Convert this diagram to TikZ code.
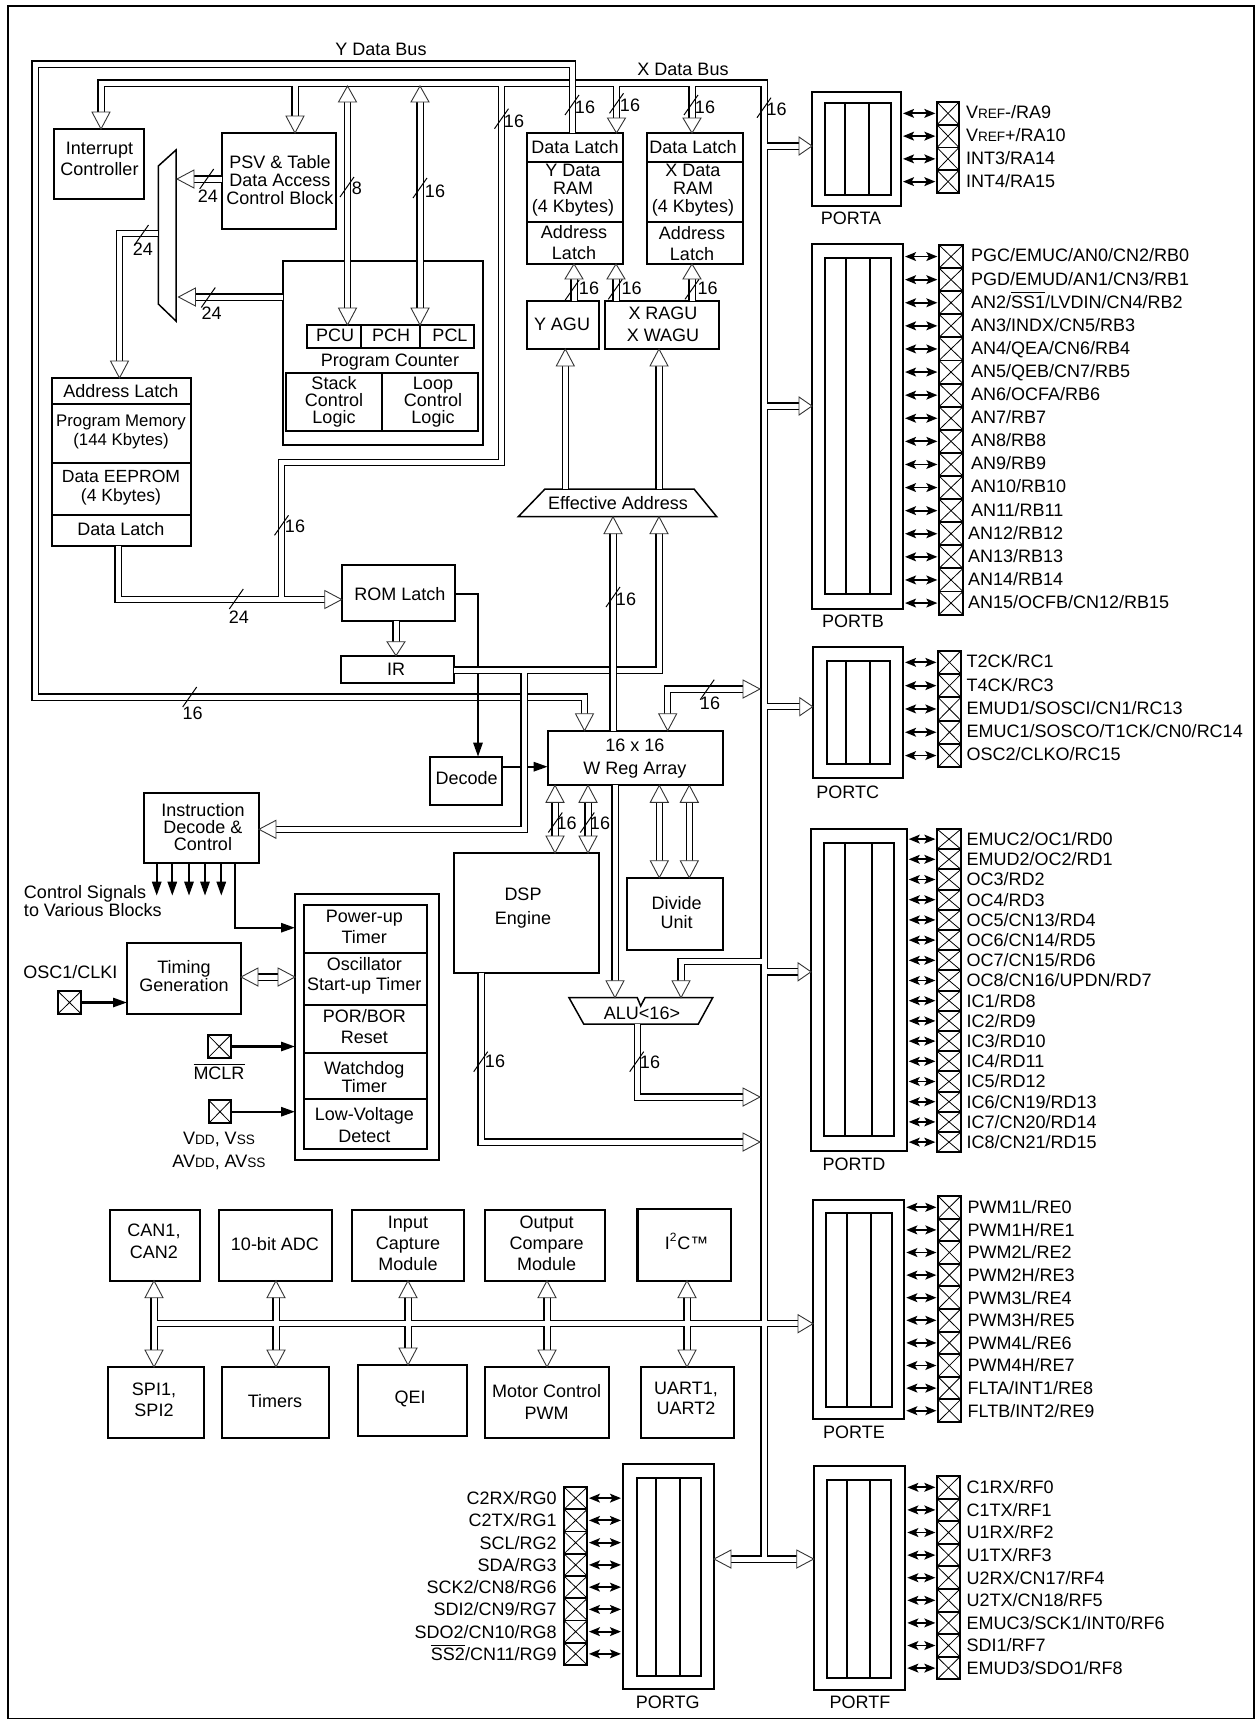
\documentclass[tikz,border=0pt]{standalone}
\usepackage{fontspec}
\setmainfont{Liberation Sans}
\usetikzlibrary{arrows.meta,calc}
\newcount\Tcnt
\newcommand\Ovl[1]{$\overline{\mbox{#1}}$}
\newcommand\Sm{\fontsize{6.8}{8}\selectfont}
\tikzset{
  box/.style={draw,line width=1.1pt,inner sep=0pt,outer sep=0pt},
  txt/.style={inner sep=0pt,outer sep=0pt,font=\fontsize{9}{10}\selectfont,text height=6.4pt,text depth=0pt},
  bus/.style={line width=.6pt,double=white,double distance=2.5pt,line join=miter},
  hd/.style={draw=black!80,line width=.45pt,fill=white,line join=miter},
  divl/.style={line width=1.1pt},
  thn/.style={line width=.75pt},
  slash/.style={line width=.5pt},
  thk/.style={line width=1.1pt,-{Triangle[length=7pt,width=4.6pt]}},
  pin/.style={draw,line width=.95pt,inner sep=0pt,outer sep=0pt,path picture={\draw[line width=.4pt] (path picture bounding box.north west)--(path picture bounding box.south east) (path picture bounding box.north east)--(path picture bounding box.south west);}},
  pinar/.style={line width=.9pt,{Stealth[length=5.5pt,width=4.4pt,inset=1.2pt]}-{Stealth[length=5.5pt,width=4.4pt,inset=1.2pt]},shorten <=1pt,shorten >=.8pt},
}
% box: [opts]{x1}{y1}{x2}{y2}{name}
\newcommand\Bx[6][]{\node[box,minimum width={(#4-#2)*0.5pt},minimum height={(#5-#3)*0.5pt},#1] (#6) at ({(#2+#4)/2},{(#3+#5)/2}) {};}
% single-line text
\newcommand\Tl[4][]{\global\advance\Tcnt by 1\relax\node[txt,#1] (t\the\Tcnt) at (#2,#3) {#4};}
% multi-line text: {x}{ymid}{skip}{text}
\newcommand\Tm[5][]{\global\advance\Tcnt by 1\relax\node[inner sep=0pt,outer sep=0pt,align=center,font=\fontsize{9}{#4}\selectfont,#1] (t\the\Tcnt) at (#2,#3) {#5};}
% bus width slash and number
\newcommand\Bw[5]{\draw[slash] (#1,#2) ++(-7,10) -- ++(14,-20);\Tl{#3}{#4}{#5}}
\newcommand\HdD[2][17]{\draw[hd] (#2) -- ++(-9,-#1) -- ++(18,0) -- cycle;}
\newcommand\HdU[2][17]{\draw[hd] (#2) -- ++(-9,#1) -- ++(18,0) -- cycle;}
\newcommand\HdR[2][17]{\draw[hd] (#2) -- ++(-#1,-9) -- ++(0,18) -- cycle;}
\newcommand\HdL[2][17]{\draw[hd] (#2) -- ++(#1,-9) -- ++(0,18) -- cycle;}
% pin column right of a port: prefix, port, x1, x2, ytop, rowh, labelx, label offset, list
\newcommand\PinR[9]{\foreach \lbl [count=\ii from 0] in {#9}{%
  \node[pin,minimum width={(#4-#3)*0.5pt},minimum height={#6*0.5pt}] (#1\ii) at ({(#3+#4)/2},{#5+#6*(\ii+0.5)}) {};
  \draw[pinar] (#2.east |- #1\ii.west) -- (#1\ii.west);
  \node[txt,anchor=west] (#1l\ii) at (#7,{#5+#6*(\ii+0.5)+#8}) {\lbl};}}
\newcommand\PinL[9]{\foreach \lbl [count=\ii from 0] in {#9}{%
  \node[pin,minimum width={(#4-#3)*0.5pt},minimum height={#6*0.5pt}] (#1\ii) at ({(#3+#4)/2},{#5+#6*(\ii+0.5)}) {};
  \draw[pinar] (#2.west |- #1\ii.east) -- (#1\ii.east);
  \node[txt,anchor=east] (#1l\ii) at (#7,{#5+#6*(\ii+0.5)+#8}) {\lbl};}}
\begin{document}
\begin{tikzpicture}[x=0.5pt,y=-0.5pt]
\useasboundingbox (0,0) rectangle (1254,1719);
\draw[line width=1pt] (8,6) rectangle (1254,1719);
% ---- boxes
\Bx{54}{129}{144}{199}{ic}
\Bx{222}{133}{336}{229}{psv}
\Bx{283}{261}{483}{445}{pc}
\Bx{307}{325}{474}{348}{pcub}
\draw[divl] (361,325)--(361,348) (420.3,325)--(420.3,348);
\Bx{286}{373}{478}{431}{stk}
\draw[divl] (382,373)--(382,431);
\Bx{52}{378}{191}{546}{mem}
\draw[divl] (52,404)--(191,404) (52,463)--(191,463) (52,515)--(191,515);
\Bx{527.3}{133}{623}{264}{yram}
\draw[divl] (527.3,161.7)--(623,161.7) (527.3,222.3)--(623,222.3);
\Bx{647.3}{133}{743}{264}{xram}
\draw[divl] (647.3,161.7)--(743,161.7) (647.3,222.3)--(743,222.3);
\Bx{527}{301}{599}{349}{yagu}
\Bx{605}{301}{719}{349}{xagu}
\Bx{341.7}{565.3}{455}{621}{rom}
\Bx{341}{655.7}{454.3}{682.7}{ir}
\Bx{430}{756.7}{502}{805}{dec}
\Bx{547.7}{730.7}{723.3}{785.3}{w}
\Bx{454}{853}{599}{972.7}{dsp}
\Bx{627}{877.7}{723.3}{950}{divu}
\Bx{144}{793}{259}{863}{id}
\Bx{127}{942.7}{241}{1014}{tg}
\Bx{295}{894}{439}{1159.7}{tmr}
\Bx{304}{905}{427}{1149.3}{tmri}
\draw[divl] (304,953.3)--(427,953.3) (304,1004.7)--(427,1004.7) (304,1053)--(427,1053) (304,1099)--(427,1099);
\Bx{110}{1210}{200}{1280.7}{can}
\Bx{219}{1210}{332}{1280.7}{adc}
\Bx{352}{1210}{464}{1280.7}{icm}
\Bx{484.6}{1210}{605}{1280.7}{ocm}
\Bx{637.5}{1209}{730.7}{1280.7}{iic}
\Bx{108}{1367}{203.7}{1437.7}{spi}
\Bx{222}{1367}{329}{1437.7}{tim}
\Bx{358}{1365}{466.7}{1435.7}{qei}
\Bx{484.6}{1367}{608.6}{1437.7}{pwm}
\Bx{640.7}{1367}{734}{1437.7}{uart}
% mux, effective address, ALU outlines
\draw[thn] (158.3,166)--(176,150)--(176,321)--(158.3,304)--cycle;
\draw[thn] (545,489)--(694,489)--(716.7,516.7)--(518.3,516.7)--cycle;
\draw[thn] (569,997.7)--(637.3,997.7)--(640.7,1006)--(645,997.7)--(712.7,997.7)--(698.3,1024)--(583.7,1024)--cycle;
% ports
\Bx{812}{92}{901}{206}{pa}\Bx{825}{103}{891}{194.7}{pai}
\draw[divl] (845,103)--(845,194.7) (869,103)--(869,194.7);
\Bx{812}{244}{903}{609}{pb}\Bx{825}{258}{891}{594}{pbi}
\draw[divl] (846,258)--(846,594) (870,258)--(870,594);
\Bx{812.7}{646.7}{903}{778}{pcc}\Bx{826.7}{660.7}{890}{764}{pci}
\draw[divl] (845.7,660.7)--(845.7,764) (870,660.7)--(870,764);
\Bx{811}{829}{906.7}{1151}{pd}\Bx{824}{843}{894}{1135.7}{pdi}
\draw[divl] (845,843)--(845,1135.7) (871.7,843)--(871.7,1135.7);
\Bx{813}{1200}{904.3}{1418.8}{pe}\Bx{826}{1213}{892}{1406.6}{pei}
\draw[divl] (847.3,1213)--(847.3,1406.6) (871.3,1213)--(871.3,1406.6);
\Bx{813.7}{1465.7}{905.3}{1689.7}{pf}\Bx{826.7}{1479.8}{891.3}{1678}{pfi}
\draw[divl] (847.3,1479.8)--(847.3,1678) (870.3,1479.8)--(870.3,1678);
\Bx{623}{1464}{714}{1689}{pg}\Bx{636.7}{1478}{701.3}{1676}{pgi}
\draw[divl] (656,1478)--(656,1676) (680,1478)--(680,1676);
% ---- bus junction coordinates
\coordinate (xL) at (101,83); \coordinate (xP) at (295,83); \coordinate (xV) at (501.5,83);
\coordinate (xY) at (616.5,83); \coordinate (xX) at (692,83); \coordinate (xR) at (764,83);
\coordinate (xB) at (764,1559);
\coordinate (mA) at (764,146); \coordinate (mB) at (764,406); \coordinate (mC) at (764,706.7);
\coordinate (mD) at (764,971.8); \coordinate (mE) at (764,1323.7); \coordinate (mAlu) at (764,961.7);
\coordinate (aluC) at (681,961.7); \coordinate (aluT) at (640,997.7);
\coordinate (vc1) at (501.5,462.5); \coordinate (vc2) at (281.5,462.5); \coordinate (vc3) at (281.5,599.5);
\coordinate (dc1) at (118,599.5);
\coordinate (pL) at (154,1323.7); \coordinate (p2) at (276,1323.7); \coordinate (p3) at (408,1323.7);
\coordinate (p4) at (547,1323.7); \coordinate (p5) at (687,1323.7);
\coordinate (eaT) at (618,489); \coordinate (eaB) at (618,516.7);
% ---- X data bus network (one path, so junctions merge)
\draw[bus]
  ($(xL |- ic.north)+(0,-10)$) -- (xL) -- (xR) -- (xB)
  (xP) -- ($(xP |- psv.north)+(0,-10)$)
  (xY) -- ($(xY |- yram.north)+(0,-10)$)
  (xX) -- ($(xX |- xram.north)+(0,-10)$)
  (xV) -- (vc1) -- (vc2) -- (vc3)
  (dc1 |- mem.south) -- (dc1) -- ($(dc1 -| rom.west)+(-8,0)$)
  (mA) -- ($(mA -| pa.west)+(-8,0)$)
  (mB) -- ($(mB -| pb.west)+(-8,0)$)
  (mC) -- ($(mC -| pcc.west)+(-8,0)$)
  (mD) -- ($(mD -| pd.west)+(-8,0)$)
  (mAlu) -- (aluC) -- ($(aluC |- aluT)+(0,-10)$)
  ($(pL |- can.south)+(0,10)$) -- ($(pL |- spi.north)+(0,-10)$)
  (pL) -- ($(mE -| pe.west)+(-8,0)$)
  ($(p2 |- adc.south)+(0,10)$) -- ($(p2 |- tim.north)+(0,-10)$)
  ($(p3 |- icm.south)+(0,10)$) -- ($(p3 |- qei.north)+(0,-10)$)
  ($(p4 |- ocm.south)+(0,10)$) -- ($(p4 |- pwm.north)+(0,-10)$)
  ($(p5 |- iic.south)+(0,10)$) -- ($(p5 |- uart.north)+(0,-10)$)
  ($(xB -| pg.east)+(8,0)$) -- ($(xB -| pf.west)+(-8,0)$);
% ---- Y data bus
\coordinate (yb1) at (572.5,64); \coordinate (yb2) at (35,64); \coordinate (yb3) at (35,697);
\coordinate (yb4) at (584.5,697);
\draw[bus] (yb1 |- yram.north) -- (yb1) -- (yb2) -- (yb3) -- (yb4) -- ($(yb4 |- w.north)+(0,-10)$);
% ---- control lines
\coordinate (tc) at (478,594); \coordinate (dw) at (502,766.7);
\draw[thk] (rom.east |- tc) -- (tc) -- (tc |- dec.north);
\draw[thk] (dec.east |- dw) -- (w.west |- dw);
% ---- IR network
\coordinate (irR) at (659,670); \coordinate (irD) at (524,670); \coordinate (irC) at (524,829.3);
\draw[bus] (ir.east |- irR) -- (irR) -- ($(irR |- eaB)+(0,10)$)
  (irD) -- (irC) -- ($(irC -| id.east)+(10,0)$);
% ---- W register connections
\coordinate (wE) at (613,600); \coordinate (w2) at (667.7,689); \coordinate (wa) at (615,800);
\coordinate (ds1) at (555,820); \coordinate (ds2) at (588,820);
\coordinate (dv1) at (659.3,820); \coordinate (dv2) at (689.3,820);
\draw[bus] (wE |- w.north) -- ($(wE |- eaB)+(0,10)$);
\draw[bus] ($(w2 |- w.north)+(0,-10)$) -- (w2) -- ($(w2 -| xR)+(-12,0)$);
\draw[bus] (wa |- w.south) -- ($(wa |- aluT)+(0,-10)$);
\draw[bus] ($(ds1 |- w.south)+(0,10)$) -- ($(ds1 |- dsp.north)+(0,-10)$);
\draw[bus] ($(ds2 |- w.south)+(0,10)$) -- ($(ds2 |- dsp.north)+(0,-10)$);
\draw[bus] ($(dv1 |- w.south)+(0,10)$) -- ($(dv1 |- divu.north)+(0,-10)$);
\draw[bus] ($(dv2 |- w.south)+(0,10)$) -- ($(dv2 |- divu.north)+(0,-10)$);
% ---- ALU and DSP outputs
\coordinate (ao1) at (637.5,1024); \coordinate (ao2) at (637.5,1097);
\coordinate (do1) at (481,972.7); \coordinate (do2) at (481,1142);
\draw[bus] (ao1) -- (ao2) -- ($(ao2 -| xR)+(-12,0)$);
\draw[bus] (do1) -- (do2) -- ($(do2 -| xR)+(-12,0)$);
% ---- program counter and address paths
\coordinate (pb8) at (347.5,86); \coordinate (pb16) at (420,86);
\draw[bus] ($(pb8)+(0,10)$) -- ($(pb8 |- pcub.north)+(0,-10)$);
\draw[bus] ($(pb16)+(0,10)$) -- ($(pb16 |- pcub.north)+(0,-10)$);
\coordinate (muxS) at (177,179); \coordinate (muxP) at (178.5,297);
\draw[bus] (psv.west |- muxS) -- ($(muxS)+(10,0)$);
\draw[bus] (pc.west |- muxP) -- ($(muxP)+(10,0)$);
\coordinate (mx1) at (158.3,233.5); \coordinate (mx2) at (119.5,233.5);
\draw[bus] (mx1) -- (mx2) -- ($(mx2 |- mem.north)+(0,-10)$);
% ---- AGU paths
\coordinate (ya) at (574,290); \coordinate (xa1) at (616,290); \coordinate (xa2) at (692,290);
\draw[bus] (ya |- yagu.north) -- ($(ya |- yram.south)+(0,10)$);
\draw[bus] (xa1 |- xagu.north) -- ($(xa1 |- yram.south)+(0,10)$);
\draw[bus] (xa2 |- xagu.north) -- ($(xa2 |- xram.south)+(0,10)$);
\coordinate (ea1) at (565.3,420); \coordinate (ea2) at (659,420);
\draw[bus] (ea1 |- eaT) -- ($(ea1 |- yagu.south)+(0,10)$);
\draw[bus] (ea2 |- eaT) -- ($(ea2 |- xagu.south)+(0,10)$);
% ---- ROM to IR, timing
\coordinate (ri) at (396,640); \coordinate (tt) at (270,977);
\draw[bus] (ri |- rom.south) -- ($(ri |- ir.north)+(0,-10)$);
\draw[bus] ($(tt -| tg.east)+(10,0)$) -- ($(tt -| tmr.west)+(-10,0)$);
% ---- heads
\HdD{xL |- ic.north}\HdD{xP |- psv.north}
\HdD[15]{xY |- yram.north}\HdD[15]{xX |- xram.north}
\HdU[15]{ya |- yram.south}\HdU[15]{xa1 |- yram.south}\HdU[15]{xa2 |- xram.south}
\HdU{ea1 |- yagu.south}\HdU{ea2 |- xagu.south}
\HdU[16]{pb8}\HdD{pb8 |- pcub.north}\HdU[16]{pb16}\HdD{pb16 |- pcub.north}
\HdL{muxS}\HdL{muxP}\HdD{mx2 |- mem.north}
\HdR[13]{mA -| pa.west}\HdR[13]{mB -| pb.west}\HdR[13]{mC -| pcc.west}\HdR[13]{mD -| pd.west}\HdR[15]{mE -| pe.west}
\HdR{dc1 -| rom.west}
\HdD[14]{ri |- ir.north}
\HdU{wE |- eaB}\HdU{irR |- eaB}
\HdL{irC -| id.east}
\HdD{yb4 |- w.north}\HdD{w2 |- w.north}\HdR{$(w2 -| xR)+(-4,0)$}
\HdD{wa |- aluT}\HdD{aluC |- aluT}
\HdR{$(ao2 -| xR)+(-4,0)$}\HdR{$(do2 -| xR)+(-4,0)$}
\HdU{ds1 |- w.south}\HdD{ds1 |- dsp.north}\HdU{ds2 |- w.south}\HdD{ds2 |- dsp.north}
\HdU{dv1 |- w.south}\HdD{dv1 |- divu.north}\HdU{dv2 |- w.south}\HdD{dv2 |- divu.north}
\HdL{tt -| tg.east}\HdR{tt -| tmr.west}
\HdU{pL |- can.south}\HdD{pL |- spi.north}
\HdU{p2 |- adc.south}\HdD{p2 |- tim.north}
\HdU{p3 |- icm.south}\HdD{p3 |- qei.north}
\HdU{p4 |- ocm.south}\HdD{p4 |- pwm.north}
\HdU{p5 |- iic.south}\HdD{p5 |- uart.north}
\HdL{xB -| pg.east}\HdR{xB -| pf.west}
% ---- bus width marks
\Bw{206.7}{179}{208}{196}{24}
\Bw{141.5}{235}{143}{249}{24}
\Bw{208.3}{297.5}{211.7}{313}{24}
\Bw{347}{187}{357}{188}{8}
\Bw{420}{188}{435}{190.7}{16}
\Bw{501.5}{118.7}{514}{120.7}{16}
\Bw{572}{105}{585}{106.7}{16}
\Bw{616.5}{103.3}{630}{104.7}{16}
\Bw{691}{105}{705}{107}{16}
\Bw{764}{107.7}{776.7}{109}{16}
\Bw{572.2}{290}{589}{287.7}{16}
\Bw{615.3}{289.3}{631.7}{287.7}{16}
\Bw{692}{289.3}{707.7}{287.7}{16}
\Bw{281.5}{525.3}{295}{525.7}{16}
\Bw{236.3}{599}{239}{616.7}{24}
\Bw{189.7}{697}{192.7}{712.7}{16}
\Bw{613}{597}{626}{599}{16}
\Bw{707.2}{689.7}{710}{703.3}{16}
\Bw{555.3}{822.5}{566.7}{822.7}{16}
\Bw{587.3}{822.5}{600}{822.7}{16}
\Bw{636.7}{1061.7}{650}{1061.7}{16}
\Bw{480.7}{1061.7}{495}{1060.7}{16}
% ---- small control arrows
\foreach \sx [count=\si] in {156.7,172.3,189,205,221.3}{
  \coordinate (cs\si) at (\sx,895.7);
  \draw[thk] (cs\si |- id.south) -- (cs\si);}
\coordinate (it) at (235,927.7);
\draw[thk] (it |- id.south) -- (it) -- (it -| tmr.west);
\node[pin,minimum width=11.8pt,minimum height=11.5pt] (posc) at (69.5,1002.5) {};
\node[pin,minimum width=11.7pt,minimum height=11.8pt] (pmclr) at (219.3,1046.5) {};
\node[pin,minimum width=11.3pt,minimum height=11.6pt] (pvdd) at (220,1111.7) {};
\draw[thk] (posc.east) -- (tg.west |- posc.east);
\draw[thk] (pmclr.east) -- (tmr.west |- pmclr.east);
\draw[thk] (pvdd.east) -- (tmr.west |- pvdd.east);
% ---- texts
\Tl{381}{49.3}{Y Data Bus}
\Tl{683}{69.3}{X Data Bus}
\Tm{99.5}{158.5}{10.5pt}{Interrupt\\Controller}
\Tm{280}{180.5}{9pt}{PSV \& Table\\Data Access\\Control Block}
\Tl{335}{335}{PCU}\Tl{391}{335}{PCH}\Tl{450}{335}{PCL}
\Tl{390}{360}{Program Counter}
\Tm{334}{402}{8.6pt}{Stack\\Control\\Logic}
\Tm{433}{402}{8.6pt}{Loop\\Control\\Logic}
\Tl{121}{391}{Address Latch}
\Tm[font=\fontsize{8.4}{9.5}\selectfont]{121}{432}{9.5pt}{Program Memory\\(144 Kbytes)}
\Tm[font=\fontsize{8.8}{9.5}\selectfont]{121}{488}{9.5pt}{Data EEPROM\\(4 Kbytes)}
\Tl{121}{529}{Data Latch}
\Tl{575}{147}{Data Latch}
\Tm{573}{190}{9pt}{Y Data\\RAM\\(4 Kbytes)}
\Tm{574}{243}{10.5pt}{Address\\Latch}
\Tl{693}{147}{Data Latch}
\Tm{693}{190}{9pt}{X Data\\RAM\\(4 Kbytes)}
\Tm{692}{244}{10.5pt}{Address\\Latch}
\Tl{562}{324}{Y AGU}
\Tm{663}{324}{11pt}{X RAGU\\X WAGU}
\Tl{618}{502.7}{Effective Address}
\Tl{400}{594}{ROM Latch}
\Tl{396}{669}{IR}
\Tl{466.7}{778}{Decode}
\Tm{635}{758.5}{11.5pt}{16 x 16\\W Reg Array}
\Tm{523}{908}{12pt}{DSP\\Engine}
\Tm{676.7}{912.5}{9.5pt}{Divide\\Unit}
\Tl{642}{1012.7}{ALU<16>}
\Tm{203}{827}{8.6pt}{Instruction\\Decode \&\\Control}
\Tm[align=left,anchor=west]{24}{901}{9pt}{Control Signals\\to Various Blocks}
\Tl{70.3}{972.3}{OSC1/CLKI}
\Tm{184}{976}{9pt}{Timing\\Generation}
\Tl{219}{1073.3}{\Ovl{MCLR}}
\Tm{219}{1151}{11.4pt}{V{\Sm DD}, V{\Sm SS}\\AV{\Sm DD}, AV{\Sm SS}}
\Tm{364.3}{927}{10.6pt}{Power-up\\Timer}
\Tm{364.3}{976}{10pt}{Oscillator\\Start-up Timer}
\Tm{364.3}{1027}{10.5pt}{POR/BOR\\Reset}
\Tm{364.3}{1077}{8.8pt}{Watchdog\\Timer}
\Tm{364.3}{1125}{11pt}{Low-Voltage\\Detect}
\Tm{154}{1241}{10.8pt}{CAN1,\\CAN2}
\Tl{275}{1244}{10-bit ADC}
\Tm{408}{1243}{10.5pt}{Input\\Capture\\Module}
\Tm{546.6}{1243}{10.5pt}{Output\\Compare\\Module}
\Tl{686.6}{1242.7}{I\textsuperscript{2}C\texttrademark}
\Tm{154}{1399.5}{10.5pt}{SPI1,\\SPI2}
\Tl{275}{1400.7}{Timers}
\Tl{410}{1397.3}{QEI}
\Tm{546.6}{1402}{11pt}{Motor Control\\PWM}
\Tm{686}{1398}{10pt}{UART1,\\UART2}
\Tl{851}{217.7}{PORTA}
\Tl{853}{620.7}{PORTB}
\Tl{847.7}{791.7}{PORTC}
\Tl{854}{1164}{PORTD}
\Tl{854}{1431.6}{PORTE}
\Tl{860}{1701.8}{PORTF}
\Tl{667.7}{1701.7}{PORTG}
% ---- pins
\PinR{ax}{pa}{937}{959}{102}{22.75}{966}{-1}{V{\Sm REF}-/RA9,V{\Sm REF}+/RA10,INT3/RA14,INT4/RA15}
\PinR{bx}{pb}{939}{963}{245}{23.1}{971}{-1}{PGC/EMUC/AN0/CN2/RB0,PGD/EMUD/AN1/CN3/RB1,AN2/\Ovl{SS1}/LVDIN/CN4/RB2,AN3/INDX/CN5/RB3,AN4/QEA/CN6/RB4,AN5/QEB/CN7/RB5,AN6/OCFA/RB6,AN7/RB7,AN8/RB8,AN9/RB9,AN10/RB10,AN11/RB11}
\PinR{by}{pb}{939}{963}{522.2}{23.1}{968}{-1}{AN12/RB12,AN13/RB13,AN14/RB14,AN15/OCFB/CN12/RB15}
\PinR{cx}{pcc}{938}{961}{650.7}{23.3}{966.7}{-1}{T2CK/RC1,T4CK/RC3,EMUD1/SOSCI/CN1/RC13,EMUC1/SOSCO/T1CK/CN0/RC14,OSC2/CLKO/RC15}
\PinR{dx}{pd}{937}{961}{829}{20.2}{966.7}{0}{EMUC2/OC1/RD0,EMUD2/OC2/RD1,OC3/RD2,OC4/RD3,OC5/CN13/RD4,OC6/CN14/RD5,OC7/CN15/RD6,OC8/CN16/UPDN/RD7,IC1/RD8,IC2/RD9,IC3/RD10,IC4/RD11,IC5/RD12,IC6/CN19/RD13,IC7/CN20/RD14,IC8/CN21/RD15}
\PinR{ex}{pe}{938}{960.7}{1196}{22.6}{967.7}{0}{PWM1L/RE0,PWM1H/RE1,PWM2L/RE2,PWM2H/RE3,PWM3L/RE4,PWM3H/RE5,PWM4L/RE6,PWM4H/RE7,FLTA/INT1/RE8,FLTB/INT2/RE9}
\PinR{fx}{pf}{937}{960}{1476}{22.6}{966.7}{0}{C1RX/RF0,C1TX/RF1,U1RX/RF2,U1TX/RF3,U2RX/CN17/RF4,U2TX/CN18/RF5,EMUC3/SCK1/INT0/RF6,SDI1/RF7,EMUD3/SDO1/RF8}
\PinL{gx}{pg}{564}{587.3}{1487}{22.25}{556.7}{0}{C2RX/RG0,C2TX/RG1,SCL/RG2,SDA/RG3,SCK2/CN8/RG6,SDI2/CN9/RG7,SDO2/CN10/RG8,\Ovl{SS2}/CN11/RG9}
\end{tikzpicture}
\end{document}
